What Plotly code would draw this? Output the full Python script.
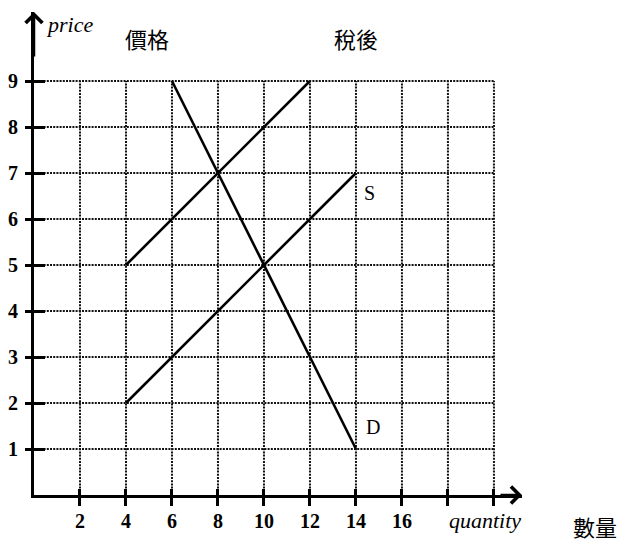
import plotly.graph_objects as go

# ---- data ----
demand_q = [6, 14]
demand_p = [9, 1]
supply_q = [4, 14]
supply_p = [2, 7]
tax_q = [4, 12]
tax_p = [5, 9]

x_ticks = [2, 4, 6, 8, 10, 12, 14, 16, 18, 20]
x_ticktext = ["2", "4", "6", "8", "10", "12", "14", "16", "", ""]
y_ticks = [1, 2, 3, 4, 5, 6, 7, 8, 9]
y_ticktext = ["1", "2", "3", "4", "5", "6", "7", "8", "9"]

grid_x_max = 20
grid_y_max = 9

labels = [
    # text, x, y (in data units), font family, size, italic
    ("S", 14.6, 6.57, "Liberation Serif", 20, False),
    ("D", 14.75, 1.48, "Liberation Serif", 20, False),
    ("price", 1.55, 10.22, "Liberation Serif", 22, True),
    ("價格", 4.9, 9.93, "Noto Sans CJK TC", 22, False),
    ("稅後", 14.0, 9.93, "Noto Sans CJK TC", 22, False),
    ("quantity", 19.6, -0.55, "Liberation Serif", 22, True),
    ("數量", 24.4, -0.68, "Noto Sans CJK TC", 22, False),
]

X_MAX = 21.22
Y_MAX = 10.5

fig = go.Figure()

grid_line = dict(color="#111", width=2, dash="2px,1.2px")

# grid lines (dotted)
for gx in x_ticks:
    fig.add_trace(go.Scatter(x=[gx, gx], y=[0, grid_y_max], mode="lines",
                             line=grid_line, hoverinfo="skip", showlegend=False))
for gy in y_ticks:
    fig.add_trace(go.Scatter(x=[0, grid_x_max], y=[gy, gy], mode="lines",
                             line=grid_line, hoverinfo="skip", showlegend=False))

# curves
for qs, ps in [(demand_q, demand_p), (supply_q, supply_p), (tax_q, tax_p)]:
    fig.add_trace(go.Scatter(x=qs, y=ps, mode="lines",
                             line=dict(color="black", width=2.6),
                             hoverinfo="skip", showlegend=False))

# invisible trace to activate the overlay axes (inner tick halves)
fig.add_trace(go.Scatter(x=[None], y=[None], xaxis="x2", yaxis="y2",
                         mode="lines", hoverinfo="skip", showlegend=False))

annotations = []
for text, x, y, fam, size, italic in labels:
    # paper coordinates so labels outside the axis ranges stay visible
    annotations.append(dict(
        x=x / X_MAX, y=y / Y_MAX, xref="paper", yref="paper", showarrow=False,
        text=f"<i>{text}</i>" if italic else text,
        font=dict(family=fam, size=size, color="black"),
        xanchor="center", yanchor="middle"))

# arrowheads on axes
annotations.append(dict(x=X_MAX, y=0, ax=X_MAX - 1, ay=0, xref="x", yref="y",
                        axref="x", ayref="y", text="", showarrow=True,
                        arrowhead=4, arrowsize=1.3, arrowwidth=2.5, arrowcolor="black"))
annotations.append(dict(x=0, y=Y_MAX, ax=0, ay=Y_MAX - 1, xref="x", yref="y",
                        axref="x", ayref="y", text="", showarrow=True,
                        arrowhead=4, arrowsize=1.3, arrowwidth=2.5, arrowcolor="black"))

tick_font = dict(family="Liberation Serif", size=20, color="black")

fig.update_layout(
    width=624, height=544,
    margin=dict(l=34, r=624 - 522, t=12, b=49),
    paper_bgcolor="white", plot_bgcolor="white",
    showlegend=False,
    annotations=annotations,
    xaxis=dict(range=[0, X_MAX], showgrid=False, zeroline=False, automargin=False,
               showline=True, linecolor="black", linewidth=3,
               tickvals=x_ticks, ticktext=[f"<b>{t}</b>" if t else "" for t in x_ticktext],
               ticks="outside", ticklen=8, tickwidth=3, tickcolor="black",
               ticklabelstandoff=-2, tickfont=tick_font, fixedrange=True),
    yaxis=dict(range=[0, Y_MAX], showgrid=False, zeroline=False, automargin=False,
               showline=True, linecolor="black", linewidth=3,
               tickvals=y_ticks, ticktext=[f"<b>{t}</b>" for t in y_ticktext],
               ticks="outside", ticklen=6, tickwidth=3, tickcolor="black",
               ticklabelstandoff=3, tickfont=tick_font, fixedrange=True),
    xaxis2=dict(range=[0, X_MAX], overlaying="x", anchor="y2", side="bottom",
                showgrid=False, zeroline=False, automargin=False, showline=False,
                tickvals=x_ticks, showticklabels=False,
                ticks="inside", ticklen=6, tickwidth=3, tickcolor="black",
                fixedrange=True),
    yaxis2=dict(range=[0, Y_MAX], overlaying="y", anchor="x2", side="left",
                showgrid=False, zeroline=False, automargin=False, showline=False,
                tickvals=y_ticks, showticklabels=False,
                ticks="inside", ticklen=11, tickwidth=3, tickcolor="black",
                fixedrange=True),
)

fig.write_html("out.html", config={"displayModeBar": False},
               post_script="document.body.style.margin='0';document.body.style.overflow='hidden';")
